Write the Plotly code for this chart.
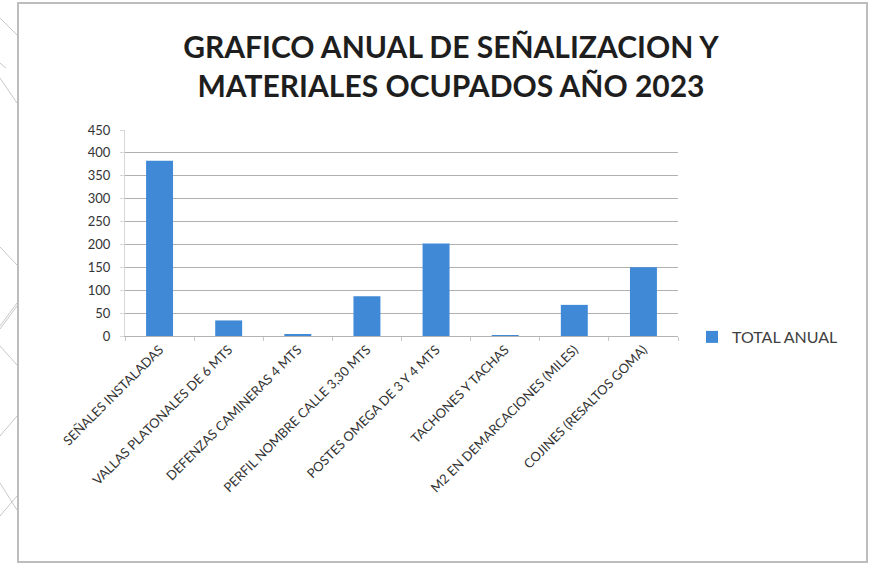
import plotly.graph_objects as go

categories = [
    "SEÑALES INSTALADAS",
    "VALLAS PLATONALES DE 6 MTS",
    "DEFENZAS CAMINERAS 4 MTS",
    "PERFIL NOMBRE CALLE 3,30 MTS",
    "POSTES OMEGA DE 3 Y 4 MTS",
    "TACHONES Y TACHAS",
    "M2 EN DEMARCACIONES (MILES)",
    "COJINES (RESALTOS GOMA)",
]
total_anual = [383, 34, 3, 87, 202, 2, 68, 150]
y_ticks = [0, 50, 100, 150, 200, 250, 300, 350, 400, 450]

W, H = 872, 566
L, R, T, B = 125, 678, 130, 336


def px(x):
    return (x - L) / (R - L)


def py(y):
    return (B - y) / (B - T)


fig = go.Figure()
fig.add_trace(go.Bar(
    x=categories, y=total_anual, name="TOTAL ANUAL",
    marker=dict(color="#4089D6", line=dict(width=0)),
))

# decorative background lines outside the chart frame (slide background)
deco = [((0, 18), (17, 35)), ((0, 63), (6, 68)), ((0, 78), (17, 103)), ((0, 247), (17, 265)),
        ((0, 326), (17, 303)), ((0, 329), (17, 306)), ((0, 346), (17, 365)),
        ((0, 436), (17, 416)), ((0, 483), (17, 510)), ((0, 516), (17, 496))]
shapes = [dict(type="line", xref="paper", yref="paper", x0=px(a[0]), y0=py(a[1]),
               x1=px(b[0]), y1=py(b[1]), line=dict(color="#c8c8c8", width=1), layer="below")
          for a, b in deco]
shapes.append(dict(type="rect", xref="paper", yref="paper",
                   x0=px(18), x1=px(867), y0=py(562), y1=py(3),
                   line=dict(color="#bdbdbd", width=2), fillcolor="white", layer="below"))

fig.update_layout(
    width=W, height=H,
    paper_bgcolor="white", plot_bgcolor="white",
    margin=dict(l=L, r=W - R, t=T, b=H - B, autoexpand=False),
    bargap=0.61,
    font=dict(family="Lato, Open Sans, sans-serif", color="#404040", size=13),
    title=dict(
        text="GRAFICO ANUAL DE SEÑALIZACION Y<br>MATERIALES OCUPADOS AÑO 2023",
        x=451 / W, xanchor="center", y=1 - 58 / H, yanchor="middle",
        font=dict(family="Lato, Open Sans, sans-serif", size=30, color="#1e1e1e", weight="bold"),
    ),
    showlegend=True,
    legend=dict(
        x=px(692), y=py(337), xanchor="left", yanchor="middle",
        font=dict(size=16, color="#404040"),
        bgcolor="rgba(0,0,0,0)", itemwidth=30,
    ),
    xaxis=dict(
        type="category", tickangle=-45, tickson="boundaries",
        ticks="outside", ticklen=4, tickcolor="#c8c8c8",
        showline=True, linecolor="#b4b4b4", linewidth=1,
        showgrid=False, tickfont=dict(size=13, color="#333333"),
    ),
    yaxis=dict(
        range=[0, 450], tickvals=y_ticks, showgrid=True, gridcolor="#b0b0b0", gridwidth=1,
        showline=True, linecolor="#d8d8d8", ticks="outside", ticklen=4, tickcolor="#d8d8d8",
        ticklabelstandoff=7,
        zeroline=False, tickfont=dict(size=13, color="#333333"),
    ),
    shapes=shapes,
)

fig.write_html("out.html", config={"displayModeBar": False},
               post_script="document.body.style.margin='0';")
